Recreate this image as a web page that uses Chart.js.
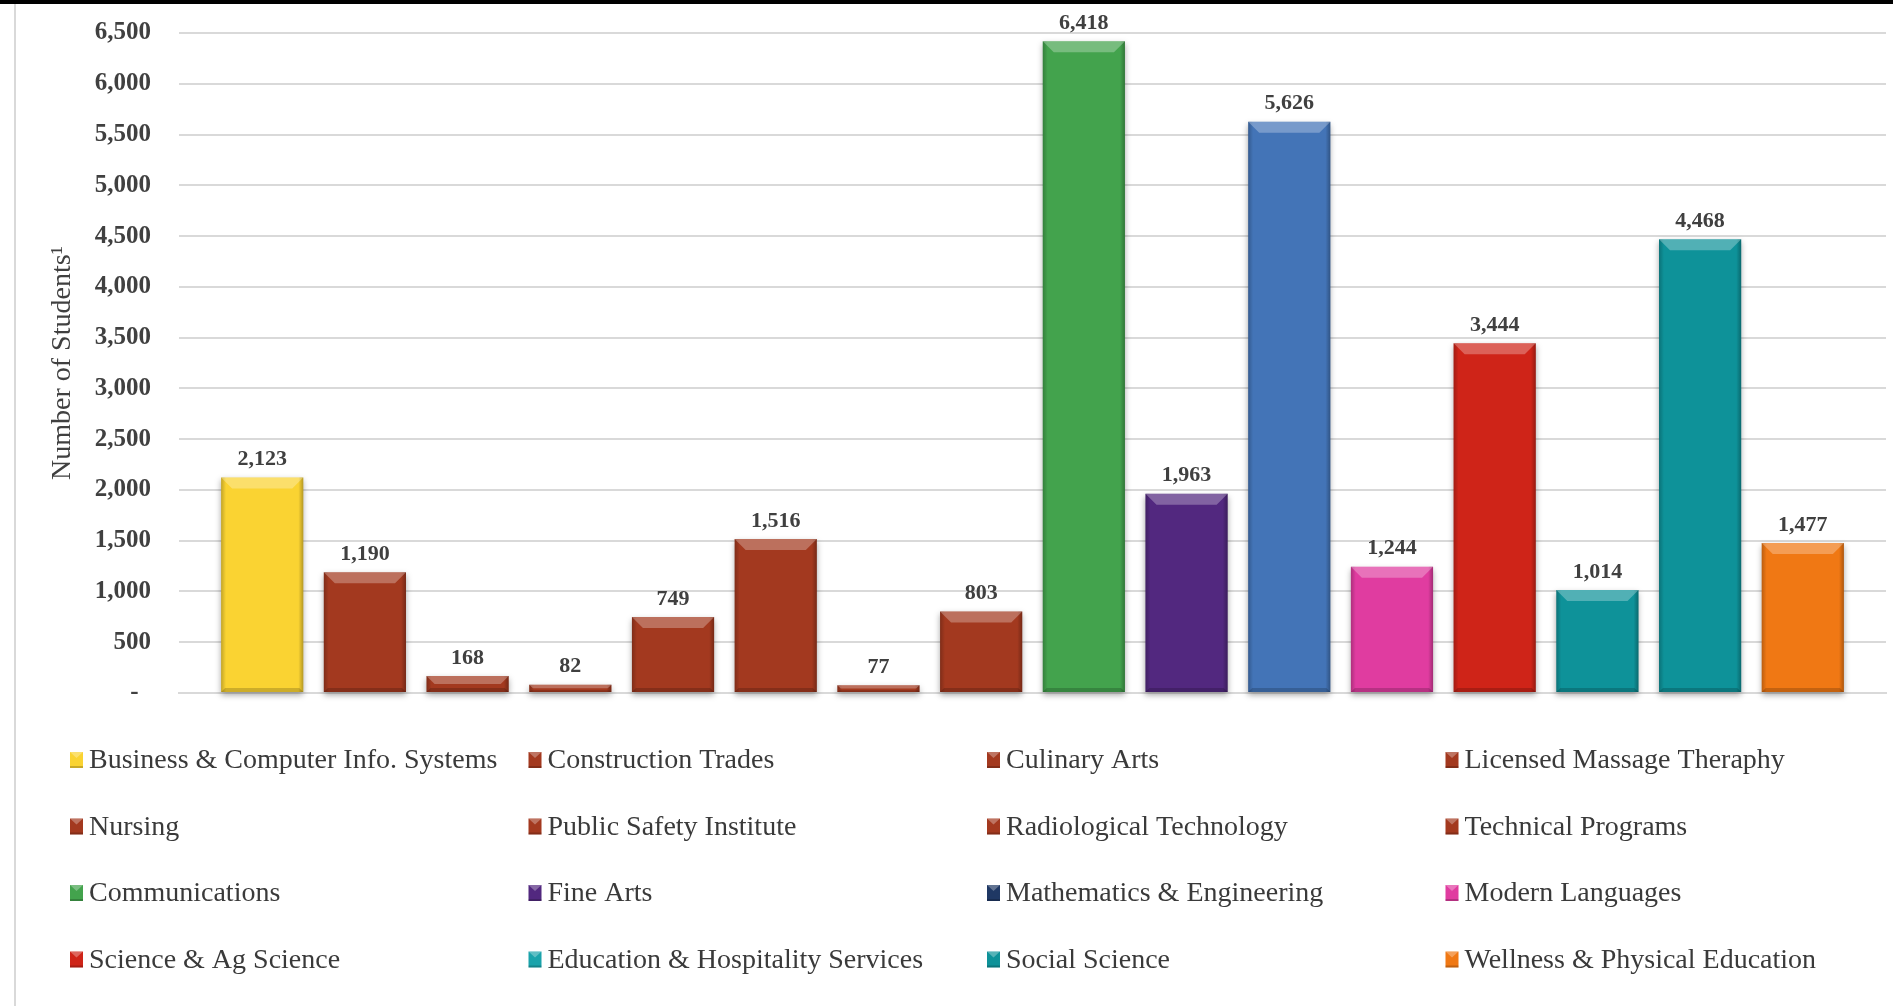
<!DOCTYPE html>
<html>
<head>
<meta charset="utf-8">
<script src="https://cdn.jsdelivr.net/npm/chart.js@4.4.1/dist/chart.umd.min.js"></script>
<style>
  html, body { margin: 0; padding: 0; background: #fff; }
  #wrap { width: 1893px; height: 1006px; position: relative; }
</style>
</head>
<body>
<div id="wrap"><canvas id="myChart" width="1893" height="1006"></canvas></div>
<script>
// chart data
const categories = [
    'Business & Computer Info. Systems', 'Construction Trades', 'Culinary Arts', 'Licensed Massage Theraphy',
    'Nursing', 'Public Safety Institute', 'Radiological Technology', 'Technical Programs',
    'Communications', 'Fine Arts', 'Mathematics & Engineering', 'Modern Languages',
    'Science & Ag Science', 'Education & Hospitality Services', 'Social Science', 'Wellness & Physical Education'
];
const students = [2123, 1190, 168, 82, 749, 1516, 77, 803, 6418, 1963, 5626, 1244, 3444, 1014, 4468, 1477];
const yTicks = [0, 500, 1000, 1500, 2000, 2500, 3000, 3500, 4000, 4500, 5000, 5500, 6000, 6500];

const barColors = [
    '#fad332', '#a3391f', '#a3391f', '#a3391f', '#a3391f', '#a3391f', '#a3391f', '#a3391f',
    '#43a34d', '#52287f', '#4374b7', '#e03ca0', '#cf2418', '#0e9299', '#0e9299', '#f07814'
];
// legend swatches (Math & Engineering shows navy in the original legend)
const legendColors = barColors.slice();
legendColors[10] = '#1f3864';
legendColors[13] = '#1aa3ab';

const textColor = '#404040';
const serif = "'Liberation Serif', 'Times New Roman', serif";

function fmt(v) {
    return v.toLocaleString('en-US');
}

// frame: black band on top and grey line at left
const framePlugin = {
    id: 'frame',
    beforeDraw(chart) {
        const c = chart.ctx;
        c.save();
        c.fillStyle = '#fff';
        c.fillRect(0, 0, chart.width, chart.height);
        c.fillStyle = '#000';
        c.fillRect(0, 0, chart.width, 4);
        c.fillStyle = '#d9d9d9';
        c.fillRect(14, 4, 2, chart.height - 4);
        c.restore();
    }
};

// soft shadow under bars
const shadowPlugin = {
    id: 'barShadow',
    beforeDatasetsDraw(chart) {
        const c = chart.ctx;
        c.save();
        c.shadowColor = 'rgba(0,0,0,0.35)';
        c.shadowBlur = 6;
        c.shadowOffsetY = 3;
    },
    afterDatasetsDraw(chart) {
        chart.ctx.restore();
    }
};

// bevel look + value labels
const bevelPlugin = {
    id: 'bevel',
    afterDatasetsDraw(chart) {
        const c = chart.ctx;
        const meta = chart.getDatasetMeta(0);
        meta.data.forEach((bar, i) => {
            const l = bar.x - bar.width / 2;
            const r = bar.x + bar.width / 2;
            const t = bar.y;
            const b = bar.base;
            const h = b - t;
            const bv = Math.min(11, h * 0.5);
            c.save();
            // side shading
            const g = c.createLinearGradient(l, 0, r, 0);
            g.addColorStop(0, 'rgba(0,0,0,0.22)');
            g.addColorStop(0.06, 'rgba(0,0,0,0)');
            g.addColorStop(0.94, 'rgba(0,0,0,0)');
            g.addColorStop(1, 'rgba(0,0,0,0.28)');
            c.fillStyle = g;
            c.fillRect(l, t, r - l, h);
            // top bevel
            c.beginPath();
            c.moveTo(l, t);
            c.lineTo(r, t);
            c.lineTo(r - bv, t + bv);
            c.lineTo(l + bv, t + bv);
            c.closePath();
            c.fillStyle = 'rgba(255,255,255,0.28)';
            c.fill();
            // bottom bevel
            const bb = Math.min(4, h * 0.25);
            c.beginPath();
            c.moveTo(l, b);
            c.lineTo(r, b);
            c.lineTo(r - bb, b - bb);
            c.lineTo(l + bb, b - bb);
            c.closePath();
            c.fillStyle = 'rgba(0,0,0,0.18)';
            c.fill();
            c.restore();

            // value label
            c.save();
            c.font = 'bold 22px ' + serif;
            c.fillStyle = textColor;
            c.textAlign = 'center';
            c.textBaseline = 'bottom';
            c.fillText(fmt(students[i]), bar.x, t - 7);
            c.restore();
        });
    }
};

// 4-column legend under the plot
const legendPlugin = {
    id: 'gridLegend',
    afterDraw(chart) {
        const c = chart.ctx;
        const left = 70, colW = 458.5, top = 760, rowH = 66.5;
        c.save();
        c.font = '28px ' + serif;
        c.textBaseline = 'middle';
        c.textAlign = 'left';
        categories.forEach((name, i) => {
            const x = left + (i % 4) * colW;
            const y = top + Math.floor(i / 4) * rowH;
            c.fillStyle = legendColors[i];
            c.fillRect(x, y - 8, 13, 16);
            c.fillStyle = 'rgba(255,255,255,0.3)';
            c.beginPath();
            c.moveTo(x, y - 8);
            c.lineTo(x + 13, y - 8);
            c.lineTo(x + 6.5, y - 2);
            c.closePath();
            c.fill();
            c.fillStyle = 'rgba(0,0,0,0.2)';
            c.fillRect(x, y + 6, 13, 2);
            c.fillStyle = '#3a3a3a';
            c.fillText(name, x + 19, y + 1);
        });
        c.restore();
    }
};

const ctx = document.getElementById('myChart').getContext('2d');

const myChart = new Chart(ctx, {
    type: 'bar',
    data: {
        labels: categories,
        datasets: [{
            label: 'Number of Students',
            data: students.map((v, i) => ({ x: i, y: v })),
            backgroundColor: barColors,
            borderWidth: 0,
            categoryPercentage: 1,
            barPercentage: 0.8,
            clip: false
        }]
    },
    options: {
        responsive: false,
        animation: false,
        devicePixelRatio: 1,
        layout: {
            padding: { left: 46, right: 7, top: 33, bottom: 313 }
        },
        scales: {
            x: {
                type: 'linear',
                offset: false,
                min: -0.81,
                max: 15.81,
                afterBuildTicks: (axis) => {
                    axis.ticks = categories.map((c, i) => ({ value: i }));
                },
                ticks: { display: false },
                grid: { display: false, drawTicks: false },
                border: { display: true, color: '#d9d9d9', width: 2 }
            },
            y: {
                min: 0,
                max: 6500,
                afterBuildTicks: (axis) => {
                    axis.ticks = yTicks.map(v => ({ value: v }));
                },
                afterFit: (axis) => {
                    axis.width = 133;
                    axis.paddingTop = 0;
                    axis.paddingBottom = 0;
                },
                ticks: {
                    padding: 28,
                    color: textColor,
                    font: { family: serif, size: 25, weight: 'bold' },
                    callback: (value) => value === 0 ? '-  ' : fmt(value)
                },
                grid: { color: '#d9d9d9', lineWidth: 2, drawTicks: false },
                border: { display: false },
                title: {
                    display: true,
                    text: 'Number of Students¹',
                    color: textColor,
                    font: { family: serif, size: 28 },
                    padding: { top: 0, bottom: 15 }
                }
            }
        },
        plugins: {
            legend: { display: false },
            tooltip: { enabled: false }
        }
    },
    plugins: [framePlugin, shadowPlugin, bevelPlugin, legendPlugin]
});
</script>
</body>
</html>
